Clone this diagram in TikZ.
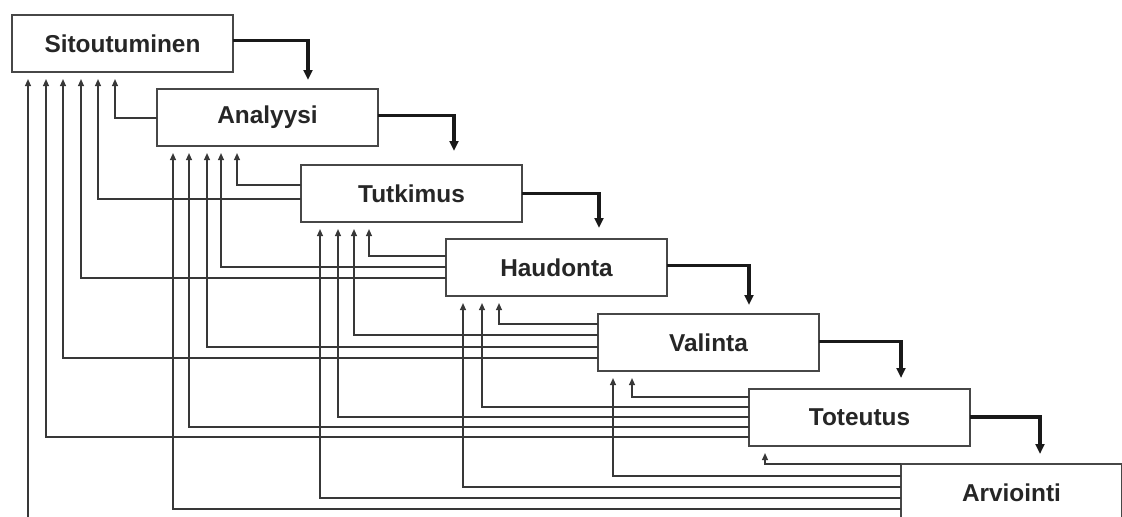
\documentclass[tikz,border=0pt]{standalone}
\usepackage{fontspec}
\setmainfont{Liberation Sans}
\usetikzlibrary{calc,arrows.meta}
\begin{document}
\begin{tikzpicture}[x=0.5pt,y=-0.5pt,
  box/.style={draw=black!72,line width=0.95pt,fill=white,rectangle,anchor=north west,
    minimum width=110.5pt,minimum height=28.5pt,inner sep=0pt,outer sep=0pt,
    text=black!85,font=\fontsize{12.2}{14}\selectfont\bfseries},
  fwd/.style={draw=black!90,line width=1.7pt,-{Triangle[width=4.4pt,length=5pt]}},
  fb/.style={draw=black!78,line width=0.75pt,-{Triangle[width=3pt,length=3.6pt]}}]
\useasboundingbox (0,0) rectangle (1122,516);
\clip (0,0) rectangle (1122,516);
% boxes
\node[box] (s)  at (12,15)  {Sitoutuminen};
\node[box] (a)  at (157,89) {Analyysi};
\node[box] (t)  at (301,165) {Tutkimus};
\node[box] (h)  at (446,239) {Haudonta};
\node[box] (v)  at (598,314) {Valinta};
\node[box] (to) at (749,389) {Toteutus};
\node[box] (ar) at (901,464) {Arviointi};
% forward arrows
\draw[fwd] ($(s.east)+(0,-3)$)  -| ($(a.north west)+(151,-9)$);
\draw[fwd] ($(a.east)+(0,-2)$)  -| ($(t.north west)+(153,-14)$);
\draw[fwd] ($(t.east)+(0,0)$)   -| ($(h.north west)+(153,-11)$);
\draw[fwd] ($(h.east)+(0,-2)$)  -| ($(v.north west)+(151,-9)$);
\draw[fwd] ($(v.east)+(0,-1)$)  -| ($(to.north west)+(152,-11)$);
\draw[fwd] ($(to.east)+(0,-0.5)$) -| ($(ar.north west)+(139,-10)$);
% feedback arrows: source, y offset from source centre, target, x offset from target west
\foreach \src/\dy/\tgt/\dx in {
  a/0.5/s/103,
  t/-8.5/a/80, t/5.5/s/86,
  h/-11.5/t/68, h/-0.5/a/64, h/10.5/s/69,
  v/-18.5/h/53, v/-7.5/t/53, v/4.5/a/50, v/15.5/s/51,
  to/-20.5/v/34, to/-10.5/h/36, to/-0.5/t/37, to/9.5/a/32, to/19.5/s/34,
  ar/-28.5/to/16, ar/-16.5/v/15, ar/-5.5/h/17, ar/5.5/t/19, ar/16.5/a/16, ar/27.5/s/16}
  \draw[fb] ($(\src.west)+(0,\dy)$) -| ($(\tgt.south west)+(\dx,7)$);
\end{tikzpicture}
\end{document}
